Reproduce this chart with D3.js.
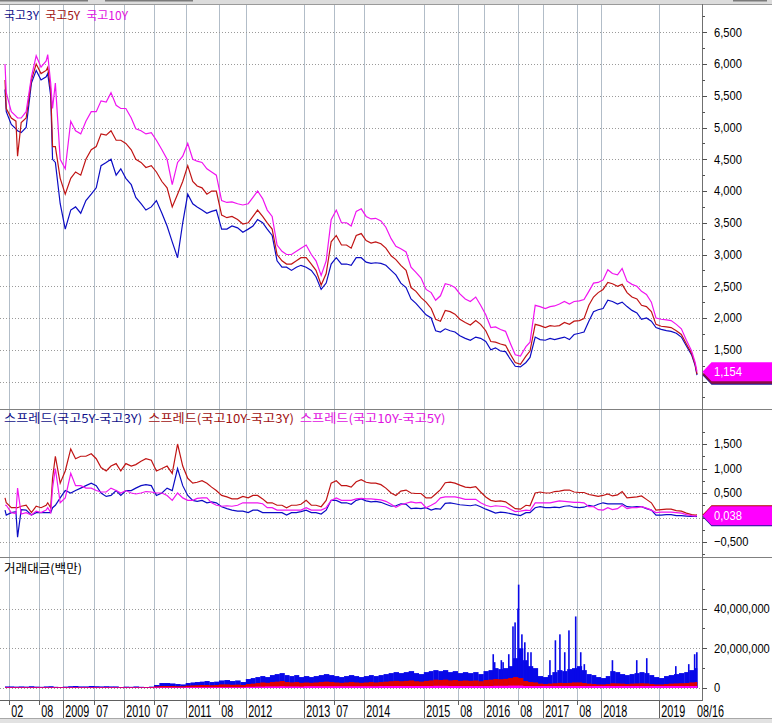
<!DOCTYPE html>
<html><head><meta charset="utf-8">
<script src="https://cdn.jsdelivr.net/npm/d3@7/dist/d3.min.js"></script>
<style>html,body{margin:0;padding:0;background:#fff;overflow:hidden}svg{display:block}</style>
</head><body><svg id="c" width="772" height="723"></svg>
<script>
// ---------- DATA (yields in %) ----------
const dates = ["2008-01-10","2008-01-17","2008-02-15","2008-03-14","2008-03-24","2008-04-15","2008-05-15","2008-06-16","2008-07-15","2008-08-14","2008-09-16","2008-09-26","2008-10-15","2008-10-27","2008-11-14","2008-12-15",
"2009-01-15","2009-02-16","2009-03-16","2009-04-15","2009-05-15","2009-06-15","2009-07-15","2009-08-14","2009-09-15","2009-10-15","2009-11-16","2009-12-15",
"2010-01-15","2010-02-16","2010-03-15","2010-04-15","2010-05-14","2010-06-15","2010-07-15","2010-08-16","2010-09-15","2010-10-15","2010-11-15","2010-12-15",
"2011-01-14","2011-02-15","2011-03-15","2011-04-15","2011-05-16","2011-06-15","2011-07-15","2011-08-16","2011-09-15","2011-10-14","2011-11-15","2011-12-15",
"2012-01-16","2012-02-15","2012-03-15","2012-04-16","2012-05-15","2012-06-15","2012-07-16","2012-08-16","2012-09-14","2012-10-15","2012-11-15","2012-12-14",
"2013-01-15","2013-02-15","2013-03-15","2013-04-15","2013-05-15","2013-06-14","2013-07-15","2013-08-16","2013-09-16","2013-10-15","2013-11-15","2013-12-16",
"2014-01-15","2014-02-14","2014-03-14","2014-04-15","2014-05-15","2014-06-16","2014-07-15","2014-08-14","2014-09-15","2014-10-15","2014-11-14","2014-12-15",
"2015-01-15","2015-02-16","2015-03-16","2015-04-15","2015-05-15","2015-06-15","2015-07-15","2015-08-14","2015-09-15","2015-10-15","2015-11-16","2015-12-15",
"2016-01-15","2016-02-15","2016-03-15","2016-04-15","2016-05-16","2016-06-15","2016-07-15","2016-08-16","2016-09-19","2016-10-14","2016-11-15","2016-12-15",
"2017-01-16","2017-02-15","2017-03-15","2017-04-14","2017-05-15","2017-06-15","2017-07-14","2017-08-16","2017-09-15","2017-10-16","2017-11-15","2017-12-15",
"2018-01-15","2018-02-14","2018-03-15","2018-04-16","2018-05-15","2018-06-15","2018-07-16","2018-08-16","2018-09-14","2018-10-15","2018-11-15","2018-12-14",
"2019-01-15","2019-02-15","2019-03-15","2019-04-15","2019-05-15","2019-06-14","2019-07-15","2019-08-05","2019-08-16"];

const ktb3y = [5.60,5.25,5.05,4.98,4.95,4.92,5.00,5.70,5.90,5.75,5.80,5.85,5.50,4.50,4.45,3.80,
3.40,3.70,3.75,3.65,3.85,3.95,4.05,4.40,4.45,4.50,4.25,4.35,
4.20,4.10,3.90,3.80,3.70,3.75,3.85,3.65,3.45,3.20,2.95,3.50,
3.95,3.80,3.75,3.70,3.65,3.68,3.70,3.40,3.40,3.45,3.42,3.35,
3.40,3.45,3.55,3.50,3.40,3.30,2.90,2.80,2.80,2.75,2.80,2.83,
2.80,2.75,2.65,2.45,2.55,2.85,2.95,2.85,2.85,2.83,2.95,2.95,
2.88,2.86,2.87,2.86,2.83,2.75,2.68,2.55,2.48,2.30,2.23,2.14,
2.05,2.00,1.80,1.78,1.83,1.80,1.78,1.72,1.68,1.65,1.70,1.68,
1.63,1.50,1.53,1.48,1.47,1.35,1.24,1.23,1.30,1.38,1.70,1.66,
1.65,1.68,1.66,1.68,1.70,1.66,1.74,1.76,1.78,1.95,2.10,2.13,
2.15,2.28,2.26,2.22,2.25,2.18,2.12,2.08,1.98,2.00,1.95,1.85,
1.82,1.80,1.79,1.76,1.70,1.56,1.42,1.25,1.100];

const ktb5y = [5.75,5.30,5.15,5.10,4.55,5.08,5.15,5.75,6.00,5.85,5.90,5.95,5.60,4.70,4.70,4.20,
3.95,4.20,4.30,4.25,4.50,4.65,4.70,4.90,4.88,4.95,4.80,4.80,
4.75,4.65,4.50,4.45,4.37,4.40,4.30,4.15,4.05,3.75,3.95,4.15,
4.40,4.15,4.08,4.05,3.95,4.00,4.00,3.62,3.58,3.60,3.55,3.48,
3.50,3.60,3.70,3.60,3.50,3.40,3.00,2.90,2.85,2.85,2.90,2.95,
2.95,2.85,2.75,2.52,2.70,3.20,3.30,3.15,3.15,3.10,3.30,3.33,
3.22,3.18,3.20,3.17,3.10,2.98,2.92,2.83,2.75,2.48,2.42,2.32,
2.25,2.15,1.98,1.95,2.12,2.10,2.06,1.98,1.93,1.89,1.96,1.90,
1.80,1.63,1.62,1.59,1.57,1.43,1.30,1.27,1.40,1.48,1.90,1.88,
1.85,1.88,1.87,1.88,1.93,1.90,1.95,1.96,1.99,2.20,2.33,2.40,
2.45,2.56,2.54,2.50,2.53,2.40,2.33,2.30,2.20,2.18,2.10,1.90,
1.87,1.86,1.85,1.80,1.74,1.59,1.44,1.27,1.116];

const ktb10y = [6.00,5.55,5.25,5.18,5.15,5.15,5.25,5.80,6.13,5.95,6.05,6.15,5.70,5.30,5.70,4.50,
4.35,5.10,4.95,4.90,5.10,5.25,5.25,5.42,5.40,5.55,5.35,5.30,
5.30,5.15,4.98,4.95,4.90,4.92,4.80,4.65,4.50,4.10,4.45,4.55,
4.75,4.50,4.47,4.45,4.35,4.30,4.25,3.85,3.82,3.83,3.80,3.78,
3.80,3.90,4.00,3.88,3.70,3.60,3.15,3.05,3.00,3.00,3.05,3.10,
3.15,3.00,2.90,2.67,2.90,3.55,3.70,3.50,3.50,3.45,3.68,3.72,
3.60,3.56,3.57,3.53,3.43,3.25,3.13,3.09,3.04,2.80,2.72,2.63,
2.45,2.40,2.28,2.35,2.54,2.52,2.48,2.38,2.30,2.26,2.33,2.20,
2.05,1.85,1.86,1.82,1.79,1.60,1.42,1.40,1.55,1.62,2.20,2.18,
2.15,2.18,2.19,2.22,2.26,2.22,2.26,2.27,2.29,2.42,2.55,2.56,
2.60,2.76,2.70,2.68,2.78,2.58,2.53,2.50,2.42,2.37,2.25,2.00,
1.98,1.97,1.96,1.90,1.83,1.65,1.48,1.30,1.154];

// trading value (unit: 1,000,000 x 백만), monthly level Jan 2008 .. Aug 2019
const vol3y = [0.8,0.8,0.7,0.8,0.7,0.9,0.7,0.6,0.8,0.9,0.6,0.5,
0.7,0.9,1.0,0.8,0.8,1.0,0.9,0.8,0.9,0.8,0.8,0.5,
0.7,0.6,0.8,0.6,0.5,0.7,1.5,2.5,2.5,2.3,2.0,1.8,
2.5,2.8,3.0,3.2,3.5,3.0,3.2,3.8,4.0,3.5,3.8,3.0,
4.5,5.0,5.5,6.0,5.5,6.5,7.0,7.5,6.5,6.0,6.5,5.5,
6.0,5.5,6.0,6.5,7.0,6.5,6.0,5.5,6.0,6.5,6.0,5.5,
6.0,6.5,6.0,6.5,7.0,7.5,8.0,7.5,8.0,8.5,7.5,7.0,
8.0,8.5,9.0,8.5,9.0,8.0,8.5,7.5,8.0,7.5,8.0,7.0,
8.5,9.0,10.0,9.5,10.0,11.0,15.0,20.0,14.0,11.0,10.0,6.0,
5.5,6.5,8.0,9.0,8.5,9.5,10.0,11.0,9.0,7.0,6.5,5.5,
5.0,6.0,8.5,8.0,7.0,6.5,7.0,7.5,8.0,7.5,6.5,5.5,
5.0,6.0,6.5,7.0,7.5,8.0,9.0,10.0];
const vol5y = [0.4,0.4,0.4,0.4,0.4,0.4,0.4,0.4,0.4,0.4,0.4,0.4,
0.4,0.4,0.4,0.4,0.4,0.4,0.4,0.4,0.4,0.4,0.4,0.4,
0.4,0.4,0.4,0.4,0.4,0.5,0.8,1.0,1.0,1.0,0.9,0.9,
1.2,1.3,1.4,1.5,1.5,1.4,1.5,1.8,1.8,1.6,1.7,1.5,
2.0,2.2,2.5,2.8,2.6,3.0,3.2,3.5,3.0,2.8,3.0,2.6,
2.8,2.6,2.8,3.0,3.2,3.0,2.8,2.6,2.8,3.0,2.8,2.6,
2.8,3.0,2.8,3.0,3.2,3.4,3.6,3.4,3.6,3.8,3.4,3.2,
3.6,3.8,4.2,4.0,4.2,3.8,4.0,3.6,3.8,3.6,3.8,3.4,
4.0,4.2,4.5,4.4,4.6,5.0,5.5,5.0,3.5,3.0,2.8,2.2,
2.0,2.2,2.4,2.6,2.5,2.6,2.8,2.8,2.5,2.2,2.0,1.8,
1.8,2.0,2.4,2.3,2.2,2.0,2.2,2.3,2.4,2.3,2.0,1.8,
1.8,2.0,2.2,2.3,2.4,2.5,2.8,3.0];
const vol10y = [0.2,0.2,0.2,0.2,0.2,0.2,0.2,0.2,0.2,0.2,0.2,0.2,
0.2,0.2,0.2,0.2,0.2,0.2,0.2,0.2,0.2,0.2,0.2,0.2,
0.2,0.2,0.2,0.2,0.2,0.2,0.3,0.3,0.3,0.3,0.3,0.3,
0.4,0.4,0.4,0.4,0.4,0.4,0.4,0.4,0.4,0.4,0.4,0.4,
0.6,0.6,0.7,0.7,0.8,0.8,0.8,0.9,0.8,0.8,0.8,0.7,
0.9,0.9,0.9,0.9,0.9,0.9,0.9,0.9,0.9,0.9,0.9,0.9,
0.9,0.9,0.9,1.0,1.0,1.0,1.0,1.0,1.0,1.0,1.0,1.0,
1.0,1.0,1.1,1.1,1.1,1.0,1.0,1.0,1.0,1.0,1.0,1.0,
1.0,1.0,1.1,1.1,1.1,1.2,1.2,1.2,1.0,1.0,1.0,1.0,
1.0,1.0,1.0,1.0,1.0,1.0,1.0,1.0,1.0,1.0,1.0,1.0,
1.0,1.0,1.0,1.0,1.0,1.0,1.0,1.0,1.0,1.0,1.0,1.0,
1.0,1.0,1.0,1.0,1.0,1.0,1.0,1.0];
// single-day spikes of 국고3Y trading value
const spikeDates = ["2016-03-01","2016-03-10","2016-04-20","2016-05-01","2016-06-05","2016-07-01","2016-07-14","2016-08-01","2016-08-05","2016-08-25","2016-09-12","2016-10-01","2016-10-20",
"2017-02-14","2017-03-20","2017-04-17","2017-05-17","2017-06-12","2017-07-24","2017-08-25","2017-09-17",
"2018-03-15","2018-08-15","2018-10-17","2019-04-12","2019-06-28","2019-08-02","2019-08-15"];
const spikeVol3y = [17,13,14,13,17,31,33,40,52,27,23,18,18,
14,24,27,18,29,36,18,12,
14,14,15,11,12,17,18];

// axis
const tickDates  = ["2008-02-01","2008-08-01","2009-01-02","2009-07-01","2010-01-04","2010-07-01","2011-01-03","2011-08-01","2012-01-02","2013-01-02","2013-07-01","2014-01-02","2015-01-02","2015-08-03","2016-01-04","2016-08-01","2017-01-02","2017-08-01","2018-01-02","2019-01-02"];
const tickLabels = ["02","08","2009","07","2010","07","2011","08","2012","2013","07","2014","2015","08","2016","08","2017","08","2018","2019"];
const endLabel = "08/16";
const legend1 = ["국고3Y","국고5Y","국고10Y"];
const legend2 = ["스프레드(국고5Y-국고3Y)","스프레드(국고10Y-국고3Y)","스프레드(국고10Y-국고5Y)"];
const title3 = "거래대금(백만)";
const rateTicks = [1.0,1.5,2.0,2.5,3.0,3.5,4.0,4.5,5.0,5.5,6.0,6.5];
const spreadTicks = [-0.5,0,0.5,1.0,1.5];
const volTicks = [0,20,40];

// ---------- LAYOUT ----------
const colB="#0c0cc4", colR="#c01414", colM="#f014f0";
const vB="#0808e8", vR="#e00000", vM="#ff00ff";
const svg=d3.select("#c");
const parse=d3.timeParse("%Y-%m-%d");
const D=dates.map(parse);
const tD=tickDates.map(parse);
const x=d3.scaleTime().domain([D[0],...tD,D[D.length-1]])
  .range([5,9,39,63,94,124,154,186,219,246,304,334,364,424,458,484,518,543,577,601,659,697]);
const axX=702.5;
const y1=d3.scaleLinear().domain([1.0,6.5]).range([381.5,32.3]);
const y2=d3.scaleLinear().domain([-0.5,1.5]).range([542,444]);
const y3=d3.scaleLinear().domain([0,40]).range([688,608.5]);
const loc=d3.formatLocale({decimal:",",thousands:".",grouping:[3],currency:["",""]});
const fRate=loc.format(".3f");
const fVol=v=>d3.format(",")(Math.round(v*1e6));
const numFont="'Liberation Sans',Arial,sans-serif";
const krFont="'Noto Sans CJK KR','Noto Sans',sans-serif";

// chrome
svg.append("rect").attr("x",0).attr("y",0).attr("width",772).attr("height",4).attr("fill","#dcdcdc");
[[0,88],[105,193],[733,767]].forEach(s=>svg.append("rect").attr("x",s[0]).attr("y",0).attr("width",s[1]-s[0]).attr("height",1.5).attr("fill","#7a7a7a"));
svg.append("line").attr("x1",0).attr("x2",772).attr("y1",4.5).attr("y2",4.5).attr("stroke","#9a9a9a");
svg.append("rect").attr("x",0).attr("y",719).attr("width",772).attr("height",4).attr("fill","#e2e2e2");
svg.append("line").attr("x1",0).attr("x2",772).attr("y1",718.5).attr("y2",718.5).attr("stroke","#a8a8a8");

const defs=svg.append("defs");
[["p1",5,404],["p2",410,147],["p3",558,142]].forEach(c=>defs.append("clipPath").attr("id",c[0]).append("rect").attr("x",0).attr("y",c[1]).attr("width",axX).attr("height",c[2]));

// vertical grid
svg.append("g").selectAll("line").data(tD).join("line")
  .attr("x1",d=>Math.round(x(d))+0.5).attr("x2",d=>Math.round(x(d))+0.5)
  .attr("y1",5).attr("y2",700).attr("stroke","#b2bdc8").attr("stroke-width",1);

// horizontal dotted grids
function hgrid(ticks,scale){
  svg.append("g").selectAll("line").data(ticks).join("line")
   .attr("x1",0).attr("x2",axX).attr("y1",d=>Math.round(scale(d))+0.5).attr("y2",d=>Math.round(scale(d))+0.5)
   .attr("stroke","#9a9a9a").attr("stroke-dasharray","1,2");
}
hgrid(rateTicks,y1); hgrid(spreadTicks,y2); hgrid(volTicks,y3);

// panel 1 lines
const rows=D.map((d,i)=>({d,b:ktb3y[i],r:ktb5y[i],m:ktb10y[i]}));
const g1=svg.append("g").attr("clip-path","url(#p1)");
[["b",colB],["r",colR],["m",colM]].forEach(([k,c])=>{
  g1.append("path").datum(rows).attr("fill","none").attr("stroke",c).attr("stroke-width",1.2)
   .attr("d",d3.line().x(d=>x(d.d)).y(d=>y1(d[k])));
});
// panel 2 spreads
const spreads=rows.map(r=>({d:r.d,s53:r.r-r.b,s103:r.m-r.b,s105:r.m-r.r}));
const g2=svg.append("g").attr("clip-path","url(#p2)");
[["s53",colB],["s103",colR],["s105",colM]].forEach(([k,c])=>{
  g2.append("path").datum(spreads).attr("fill","none").attr("stroke",c).attr("stroke-width",1.2)
   .attr("d",d3.line().x(d=>x(d.d)).y(d=>y2(d[k])));
});
// panel 3 volume
const months=d3.timeMonth.range(new Date(2008,0,1),new Date(2019,8,1));
const xEnd=x(D[D.length-1]), xStart=x(D[0]);
const g3=svg.append("g").attr("clip-path","url(#p3)");
[[vol3y,vB],[vol5y,vR],[vol10y,vM]].forEach(([arr,c])=>{
  g3.append("g").selectAll("rect").data(months).join("rect")
   .attr("x",(m)=>Math.max(xStart,x(m)))
   .attr("width",(m)=>Math.min(xEnd,x(d3.timeMonth.offset(m,1)))-Math.max(xStart,x(m))+0.3)
   .attr("y",(m,i)=>y3(arr[i])).attr("height",(m,i)=>y3(0)-y3(arr[i])).attr("fill",c);
  if(arr===vol3y){
    g3.append("g").selectAll("rect").data(spikeDates).join("rect")
     .attr("x",d=>x(parse(d))-0.8).attr("width",1.6)
     .attr("y",(d,i)=>y3(spikeVol3y[i])).attr("height",(d,i)=>y3(0)-y3(spikeVol3y[i])).attr("fill",c);
  }
});

// separators & axis lines
[409.5,557.5].forEach(yy=>svg.append("line").attr("x1",0).attr("x2",772).attr("y1",yy).attr("y2",yy).attr("stroke","#808080"));
svg.append("line").attr("x1",0).attr("x2",axX).attr("y1",700.5).attr("y2",700.5).attr("stroke","#606060");
svg.append("line").attr("x1",axX).attr("x2",axX).attr("y1",4).attr("y2",701).attr("stroke","#707070");

// right axis ticks + labels (labels hidden under the value badge are skipped)
function raxis(scale,major,minorStep,fmt,lo,hi,hidden){
  const g=svg.append("g");
  const minors=d3.range(lo,hi+1e-9,minorStep);
  g.selectAll(".mn").data(minors).join("line").attr("x1",axX).attr("x2",axX+2.5)
   .attr("y1",d=>Math.round(scale(d))+0.5).attr("y2",d=>Math.round(scale(d))+0.5).attr("stroke","#505050");
  g.selectAll(".mj").data(major).join("line").attr("x1",axX).attr("x2",axX+4.5)
   .attr("y1",d=>Math.round(scale(d))+0.5).attr("y2",d=>Math.round(scale(d))+0.5).attr("stroke","#505050");
  g.selectAll("text").data(major.filter(d=>d!==hidden)).join("text")
   .attr("transform",d=>`translate(714,${scale(d)+4.3}) scale(0.93,1.08)`)
   .attr("font-family",numFont).attr("font-size",12).attr("fill","#000").text(fmt);
}
raxis(y1,rateTicks,0.25,fRate,0.75,6.75,1.0);
raxis(y2,spreadTicks,0.25,fRate,-0.75,1.75,0);
raxis(y3,volTicks,10,fVol,0,50,null);

// x axis label row
const xg=svg.append("g");
tD.forEach((d,i)=>{
  const xx=Math.round(x(d))+0.5;
  const yr=tickLabels[i].length===4;
  xg.append("line").attr("x1",xx).attr("x2",xx).attr("y1",700).attr("y2",yr?718:705).attr("stroke","#606060");
  xg.append("text").attr("transform",`translate(${xx+1.8},716.5) scale(0.9,1.3)`)
   .attr("font-family",numFont).attr("font-size",12).attr("fill","#000").text(tickLabels[i]);
});
xg.append("text").attr("transform",`translate(${x(D[D.length-1])},716.5) scale(0.9,1.3)`)
  .attr("font-family",numFont).attr("font-size",12).attr("fill","#000").text(endLabel);

// value badges
function badge(cy,fill,label,txt){
  const t=cy-9.5,b=cy+9.5;
  svg.append("path").attr("d",`M${axX},${cy} L${axX+9},${t} L772,${t} L772,${b} L${axX+9},${b} Z`).attr("fill",fill);
  if(label) svg.append("text").attr("transform",`translate(714,${cy+4.3}) scale(0.93,1.08)`)
    .attr("font-family",numFont).attr("font-size",12).attr("fill",txt).text(label);
}
const L=rows[rows.length-1], S=spreads[spreads.length-1];
badge(y1(L.b),"#1a1a9a",null); badge(y1(L.r),"#8a1040",null); badge(y1(L.m),"#ff00ff",fRate(L.m),"#fff");
badge(y2(S.s103),"#b00000",null); badge(y2(S.s53),"#1a1a9a",null); badge(y2(S.s105),"#ff00ff",fRate(S.s105),"#fff");

// legends
function legend(items,cols,yb,sx){
  let xx=4;
  items.forEach((t,i)=>{
    const el=svg.append("text").attr("transform",`translate(${xx},${yb}) scale(${sx},1)`)
      .attr("font-family",krFont).attr("font-size",12).attr("fill",cols[i]).text(t);
    xx+=el.node().getComputedTextLength()*sx+6;
  });
}
legend(legend1,["#10108a","#a01010","#e010e0"],19.5,1);
legend(legend2,["#10108a","#a01010","#e010e0"],423,1.1);
svg.append("text").attr("transform","translate(4,572.5) scale(1.05,1)").attr("font-family",krFont).attr("font-size",12).attr("fill","#000").text(title3);
</script></body></html>
